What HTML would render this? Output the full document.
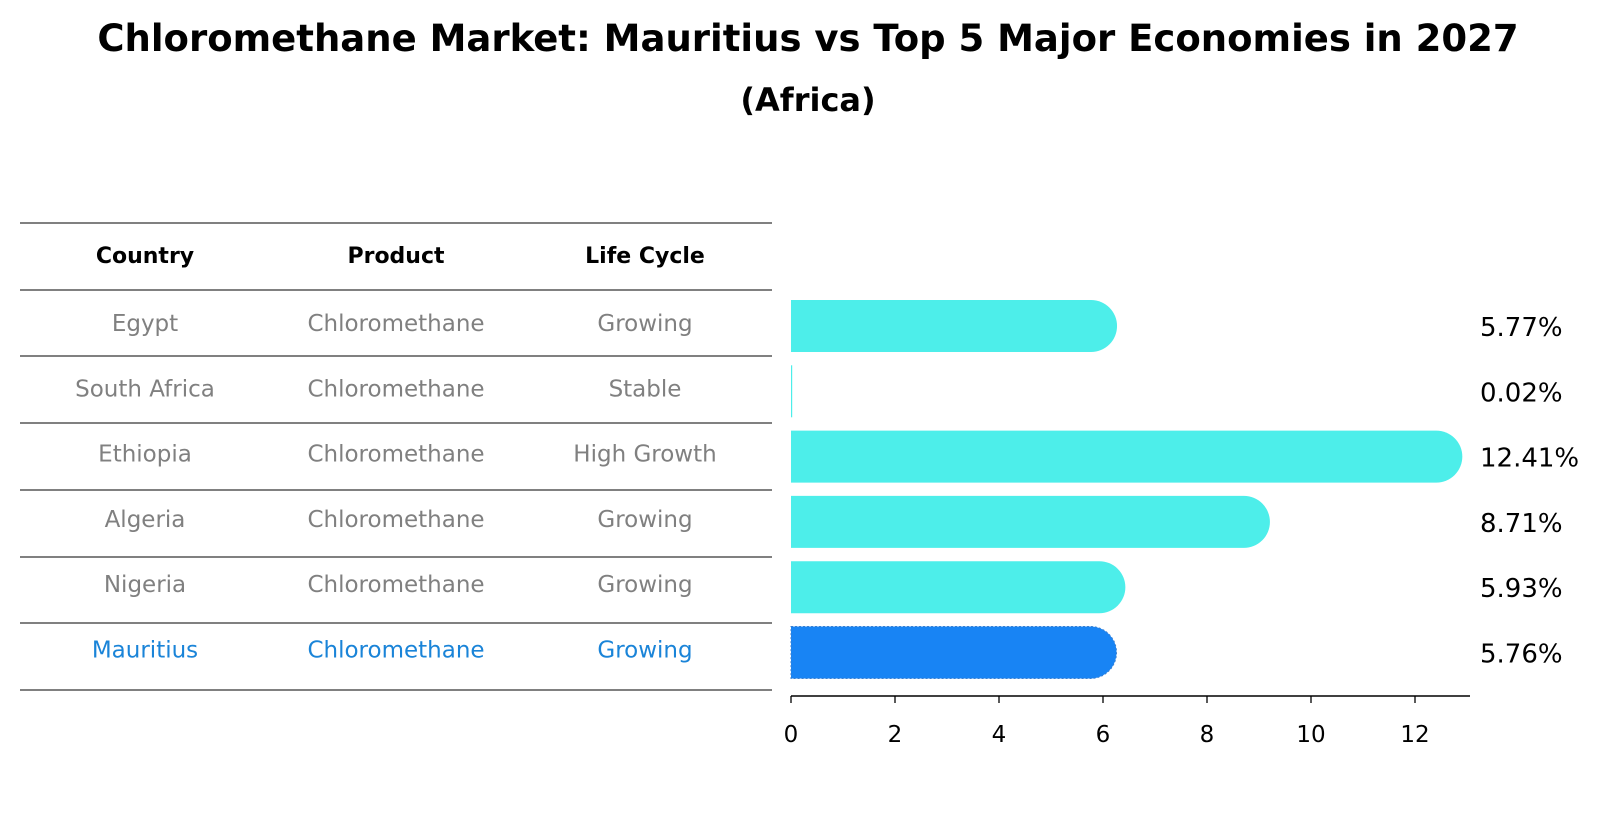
<!DOCTYPE html>
<html><head><meta charset="utf-8"><style>
body{margin:0;background:#fff}
svg{display:block;font-family:"DejaVu Sans","Liberation Sans",sans-serif}
</style></head><body>
<svg id="chart" width="1604" height="823" viewBox="0 0 1604 823">
<text x="808" y="51" text-anchor="middle" font-size="37" font-weight="bold">Chloromethane Market: Mauritius vs Top 5 Major Economies in 2027</text>
<text x="808" y="111" text-anchor="middle" font-size="32" font-weight="bold">(Africa)</text>
<g id="table"></g>
<g id="bars"></g>
</svg>
<script>
const countries=["Egypt","South Africa","Ethiopia","Algeria","Nigeria","Mauritius"];
const products=["Chloromethane","Chloromethane","Chloromethane","Chloromethane","Chloromethane","Chloromethane"];
const lifeCycles=["Growing","Stable","High Growth","Growing","Growing","Growing"];
const values=[5.77,0.02,12.41,8.71,5.93,5.76];
const xTicks=[0,2,4,6,8,10,12];

const NS="http://www.w3.org/2000/svg";
function mk(tag,attrs,parent){const e=document.createElementNS(NS,tag);for(const k in attrs)e.setAttribute(k,attrs[k]);parent.appendChild(e);return e;}
const tbl=document.getElementById('table'),bars=document.getElementById('bars');
const rowY=i=>323+i*65.3;
const xS=v=>791+v*52;
const colX=[145,396,645];
const lineYs=[223,290,356,423,490,557,623,690];
lineYs.forEach(y=>{const l=mk('line',{x1:20,x2:772,y1:y,y2:y,stroke:'#000','stroke-width':1},tbl);

});
["Country","Product","Life Cycle"].forEach((h,j)=>{const t=mk('text',{x:colX[j],y:263,'text-anchor':'middle','font-size':22,'font-weight':'bold'},tbl);t.textContent=h;

});
countries.forEach((c,i)=>{const col=c==="Mauritius"?"#1a84d8":"#808080";
[c,products[i],lifeCycles[i]].forEach((v,j)=>{const t=mk('text',{x:colX[j],y:rowY(i)+8,'text-anchor':'middle','font-size':23,fill:col},tbl);t.textContent=v;

});});
const h=52,r=26;
values.forEach((v,i)=>{const cy=rowY(i)+3,x0=xS(0),x1=xS(v);
const col=countries[i]==="Mauritius"?"#1884f4":"#4deeea";
const w=x1-x0;
const d=w>5?`M${x0},${cy-h/2}H${x1}A${r},${r} 0 0 1 ${x1},${cy+h/2}H${x0}Z`:`M${x0},${cy-h/2}h${Math.max(w,1.2)}v${h}h-${Math.max(w,1.2)}Z`;
const p=mk('path',{d:d,fill:col},bars);
if(countries[i]==="Mauritius"){p.setAttribute('stroke','#3a7fd0');p.setAttribute('stroke-dasharray','2 2');}


const t=mk('text',{x:1480,y:rowY(i)+13,'font-size':26},bars);t.textContent=values[i].toFixed(2)+'%';

});
const ax=mk('line',{x1:791,x2:1470,y1:696,y2:696,stroke:'#000','stroke-width':1.5},bars);


xTicks.forEach(v=>{const tk=mk('line',{x1:xS(v),x2:xS(v),y1:696,y2:703,stroke:'#000','stroke-width':1.3},bars);


const t=mk('text',{x:xS(v),y:742,'text-anchor':'middle','font-size':23},bars);t.textContent=v;

});
</script>
</body></html>
